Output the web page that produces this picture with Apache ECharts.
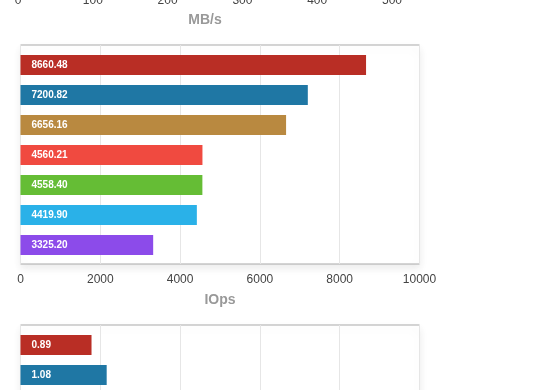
<!DOCTYPE html>
<html>
<head>
<meta charset="utf-8">
<script src="https://cdn.jsdelivr.net/npm/echarts@6/dist/echarts.min.js"></script>
<style>html,body{margin:0;padding:0;background:#fff;}#c{width:560px;height:390px;}</style>
</head>
<body>
<div id="c"></div>
<script>
// ---- data ----
var categories = ['1', '2', '3', '4', '5', '6', '7'];
var mbsTicks = [0, 100, 200, 300, 400, 500];
var iopsValues = [8660.48, 7200.82, 6656.16, 4560.21, 4558.40, 4419.90, 3325.20];
var iopsTicks = [0, 2000, 4000, 6000, 8000, 10000];
var latencyValues = [0.89, 1.08];
var latencyTicks = [0, 1, 2, 3, 4, 5];

var palette = ['#B92E25', '#1F77A4', '#B98940', '#F04A40', '#65BD35', '#2AB1E8', '#8C4BEA'];

var FONT = '"Liberation Sans", Helvetica, Arial, sans-serif';

function borderGrid(left, right, top, height) {
  return {left: left, right: right, top: top, height: height, show: true,
    borderColor: '#aaaaaa', borderWidth: 1, backgroundColor: '#ffffff',
    shadowBlur: 8, shadowOffsetY: 4, shadowColor: 'rgba(0,0,0,0.08)',
    containLabel: false, outerBoundsMode: 'none'};
}
function barGrid(left, right, top, height) {
  return {left: left, right: right, top: top, height: height, show: false,
    containLabel: false, outerBoundsMode: 'none'};
}
function visibleX(gridIndex, ticks, name) {
  return {type: 'value', gridIndex: gridIndex, min: ticks[0], max: ticks[ticks.length - 1],
    interval: ticks[1] - ticks[0], name: name, nameLocation: 'middle', nameGap: 29,
    nameTextStyle: {color: '#999999', fontSize: 14, fontWeight: 'bold', fontFamily: FONT},
    axisLine: {show: false}, axisTick: {show: false},
    axisLabel: {color: '#444444', fontSize: 12, margin: 10, fontFamily: FONT,
      formatter: function (v) { return String(v); }},
    splitLine: {show: true, lineStyle: {color: '#e6e6e6', width: 1}}};
}
function hiddenX(gridIndex, ticks) {
  return {type: 'value', gridIndex: gridIndex, min: ticks[0], max: ticks[ticks.length - 1], show: false, splitLine: {show: false}};
}
function hiddenYValue(gridIndex) {
  return {type: 'value', gridIndex: gridIndex, show: false, splitLine: {show: false}};
}
function catY(gridIndex) {
  return {type: 'category', gridIndex: gridIndex, data: categories, inverse: true, show: false};
}
function barSeries(axisIndex, values) {
  return {type: 'bar', xAxisIndex: axisIndex, yAxisIndex: axisIndex, data: values, barWidth: 20,
    itemStyle: {color: function (p) { return palette[p.dataIndex % palette.length]; }},
    label: {show: true, position: 'insideLeft', distance: 11, color: '#ffffff', fontSize: 10,
      fontWeight: 'bold', fontFamily: FONT,
      formatter: function (p) { return p.value.toFixed(2); }},
    silent: true, animation: false};
}

var chart = echarts.init(document.getElementById('c'), null, {renderer: 'canvas'});
chart.setOption({
  animation: false,
  backgroundColor: '#ffffff',
  grid: [
    borderGrid(18, 168, -300, 284.5),     // 0: MB/s (mostly above view)
    borderGrid(20.5, 140.5, 45, 219),     // 1: IOps frame
    barGrid(20.5, 140.5, 50, 210),        // 2: IOps bars
    borderGrid(20.5, 140.5, 325, 219),    // 3: bottom frame
    barGrid(20.5, 140.5, 330, 210)        // 4: bottom bars
  ],
  xAxis: [
    visibleX(0, mbsTicks, 'MB/s'),
    visibleX(1, iopsTicks, 'IOps'),
    hiddenX(2, iopsTicks),
    visibleX(3, latencyTicks, ''),
    hiddenX(4, latencyTicks)
  ],
  yAxis: [
    catY(0),
    hiddenYValue(1),
    catY(2),
    hiddenYValue(3),
    catY(4)
  ],
  series: [
    barSeries(2, iopsValues),
    barSeries(4, latencyValues)
  ]
});
</script>
</body>
</html>
